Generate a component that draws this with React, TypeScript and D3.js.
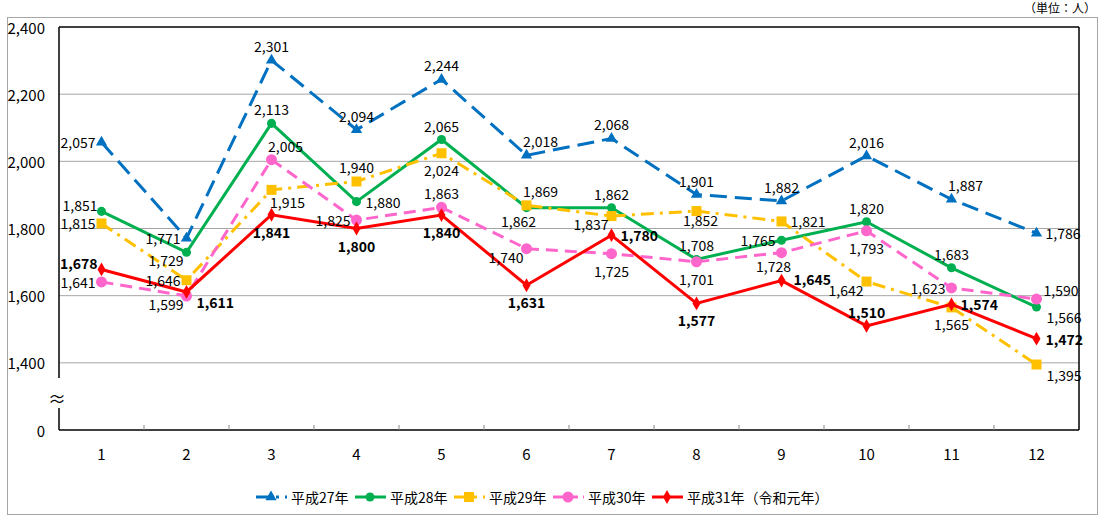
import React from "react";
import * as d3 from "d3";

const months = ["1", "2", "3", "4", "5", "6", "7", "8", "9", "10", "11", "12"];
const yTicks = [1400, 1600, 1800, 2000, 2200, 2400];

const h27 = [2057, 1771, 2301, 2094, 2244, 2018, 2068, 1901, 1882, 2016, 1887, 1786];
const h28 = [1851, 1729, 2113, 1880, 2065, 1862, 1862, 1708, 1765, 1820, 1683, 1566];
const h29 = [1815, 1646, 1915, 1940, 2024, 1869, 1837, 1852, 1821, 1642, 1565, 1395];
const h30 = [1641, 1599, 2005, 1825, 1863, 1740, 1725, 1701, 1728, 1793, 1623, 1590];
const h31 = [1678, 1611, 1841, 1800, 1840, 1631, 1780, 1577, 1645, 1510, 1574, 1472];

// where each value label sits relative to its point
const h27Pos = ["l", "l", "t", "t", "t", "tr", "t", "t", "t", "t", "tr", "r"];
const h28Pos = ["lt", "lb", "t", "r", "t", "bl", "t", "t", "l", "t", "t", "rb"];
const h29Pos = ["l", "l", "br", "t", "b", "tr", "lb", "bs", "r", "lb", "b", "rb"];
const h30Pos = ["l", "lb", "tr", "l", "t", "lb", "b", "b", "bl", "b", "l", "rt"];
const h31Pos = ["lt", "rb", "b", "b", "b", "b", "r", "b", "rw", "t", "r", "r"];

const series = [
  { name: "平成27年", values: h27, pos: h27Pos, color: "#0070C0", dash: "17 8", legendDash: "14 6 3 6", symbol: d3.symbolTriangle, size: 55, bold: false },
  { name: "平成28年", values: h28, pos: h28Pos, color: "#00B050", dash: "", legendDash: "", symbol: d3.symbolCircle, size: 64, bold: false },
  { name: "平成29年", values: h29, pos: h29Pos, color: "#FFC000", dash: "13 6 3 6", legendDash: "14 6 3 6", symbol: d3.symbolSquare, size: 100, bold: false },
  { name: "平成30年", values: h30, pos: h30Pos, color: "#FF66CC", dash: "12 7", legendDash: "10 5", symbol: d3.symbolCircle, size: 95, bold: false },
  { name: "平成31年（令和元年）", values: h31, pos: h31Pos, color: "#FF0000", dash: "", legendDash: "", symbol: d3.symbolDiamond, size: 55, bold: true },
];

const W = 1101;
const H = 516;
const plot = { left: 59, right: 1079, top: 27, bottom: 430 };
const font = "'Noto Sans CJK JP', 'Noto Sans', sans-serif";

const offsets: Record<string, [string, number, number]> = {
  t: ["middle", 0, -14],
  b: ["middle", 0, 17],
  bs: ["middle", 4, 9],
  l: ["end", -6, 0],
  r: ["start", 9, 0],
  rw: ["start", 12, -2],
  tr: ["middle", 14, -14],
  bl: ["middle", -8, 13],
  br: ["middle", 16, 12],
  lb: ["end", -3, 8],
  lt: ["end", -4, -6],
  rb: ["start", 10, 10],
  rt: ["start", 7, -9],
};

export default function App() {
  const x = d3.scaleBand().domain(months).range([plot.left, plot.right]);
  // axis is broken below 1400; "0" sits one step under it
  const y = d3.scaleLinear().domain([1200, 2400]).range([plot.bottom, plot.top]);
  const cx = (i: number) => (x(months[i]) as number) + x.bandwidth() / 2;

  const line = d3
    .line<number>()
    .x((_, i) => cx(i))
    .y((d) => y(d));

  const fmt = d3.format(",");

  let lx = 256;
  const legend = series.map((s) => {
    const textW = s.name.length === 5 ? 57 : 160;
    const item = { s, x: lx };
    lx += 35 + textW + 7;
    return item;
  });

  return (
    <svg
      width={W}
      height={H}
      style={{ position: "absolute", left: 0, top: 0, background: "#fff" }}
      fontFamily={font}
    >
      <rect x={7.5} y={17.5} width={1090} height={497} fill="none" stroke="#a6a6a6" />
      <text x={1096} y={13} textAnchor="end" fontSize={12} fill="#000">
        （単位：人）
      </text>

      {/* gridlines */}
      {yTicks.slice(0, -1).map((t) => (
        <line key={t} x1={plot.left} x2={plot.right} y1={y(t)} y2={y(t)} stroke="#a6a6a6" strokeWidth={1} />
      ))}

      {/* frame */}
      <line x1={plot.left} x2={plot.right} y1={plot.top} y2={plot.top} stroke="#000" strokeWidth={1.5} />
      <line x1={plot.right} x2={plot.right} y1={plot.top} y2={plot.bottom} stroke="#000" strokeWidth={1.5} />
      <line x1={plot.left} x2={plot.right} y1={plot.bottom} y2={plot.bottom} stroke="#000" strokeWidth={1.5} />
      <line x1={plot.left} x2={plot.left} y1={plot.top} y2={378} stroke="#000" strokeWidth={1.5} />
      <line x1={plot.left} x2={plot.left} y1={408} y2={plot.bottom} stroke="#000" strokeWidth={1.5} />
      <text x={57} y={398} textAnchor="middle" dominantBaseline="central" fontSize={18} fill="#000">
        ≈
      </text>

      {/* y labels */}
      {yTicks.map((t) => (
        <text key={t} x={45} y={y(t)} textAnchor="end" dominantBaseline="central" fontSize={15} fill="#000">
          {fmt(t)}
        </text>
      ))}
      <text x={45} y={plot.bottom} textAnchor="end" dominantBaseline="central" fontSize={15} fill="#000">
        0
      </text>

      {/* x ticks and labels */}
      {months.slice(1).map((m) => (
        <line key={m} x1={x(m)} x2={x(m)} y1={plot.bottom} y2={plot.bottom - 5} stroke="#888" />
      ))}
      {months.map((m, i) => (
        <text key={m} x={cx(i)} y={453} textAnchor="middle" dominantBaseline="central" fontSize={15} fill="#000">
          {m}
        </text>
      ))}

      {/* series */}
      {series.map((s) => (
        <g key={s.name}>
          <path d={line(s.values) || ""} fill="none" stroke={s.color} strokeWidth={3} strokeDasharray={s.dash} />
          {s.values.map((v, i) => (
            <path
              key={i}
              d={d3.symbol().type(s.symbol).size(s.size)() || ""}
              transform={`translate(${cx(i)},${y(v)})`}
              fill={s.color}
            />
          ))}
        </g>
      ))}

      {/* value labels */}
      {series.map((s) =>
        s.values.map((v, i) => {
          const [anchor, dx, dy] = offsets[s.pos[i]];
          return (
            <text
              key={s.name + i}
              x={cx(i) + dx}
              y={y(v) + dy}
              textAnchor={anchor}
              dominantBaseline="central"
              fontSize={14}
              fontWeight={s.bold ? "bold" : "normal"}
              fill="#000"
            >
              {fmt(v)}
            </text>
          );
        })
      )}

      {/* legend */}
      {legend.map(({ s, x: lx0 }) => (
        <g key={s.name}>
          <line x1={lx0} x2={lx0 + 31} y1={497} y2={497} stroke={s.color} strokeWidth={3} strokeDasharray={s.legendDash} />
          <path
            d={d3.symbol().type(s.symbol).size(s.size)() || ""}
            transform={`translate(${lx0 + 15},497)`}
            fill={s.color}
          />
          <text x={lx0 + 35} y={497} dominantBaseline="central" fontSize={14} fill="#000">
            {s.name}
          </text>
        </g>
      ))}
    </svg>
  );
}
